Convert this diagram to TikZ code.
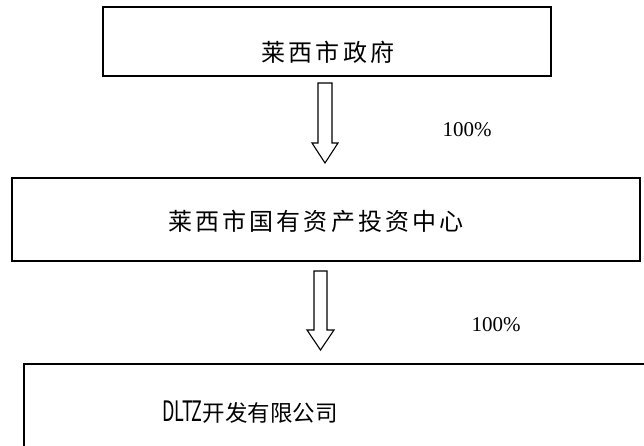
\documentclass[tikz,border=0pt]{standalone}
\usepackage{fontspec}
\setmainfont{Liberation Serif}
\newfontfamily\cjkwide[LetterSpace=13]{Noto Sans CJK SC}
\newfontfamily\cjknarrow{Noto Sans CJK SC}
\begin{document}
\begin{tikzpicture}[x=1pt,y=-1pt,
  box/.style={draw, line width=1.8pt, inner sep=0pt, outer sep=0pt},
  blockarrow/.style={draw, line width=1.1pt, line join=miter},
  cjktext/.style={inner sep=0pt, font=\cjkwide\fontsize{24}{28}\selectfont},
  cjktextb/.style={inner sep=0pt, font=\cjknarrow\fontsize{22.5}{26}\selectfont},
  pct/.style={inner sep=0pt, font=\fontsize{21}{24}\selectfont}]
\useasboundingbox (0,0) rectangle (644,445);
% boxes
\node[box, minimum width=448pt, minimum height=69pt] (gov) at (327,41.5) {};
\node[box, minimum width=628pt, minimum height=83pt] (center) at (326,219.5) {};
\node[box, minimum width=640pt, minimum height=110pt] (company) at (344,419) {};
% texts
\node[cjktext] (govtext) at (328,52) {莱西市政府};
\node[cjktext] (centertext) at (316,221) {莱西市国有资产投资中心};
\node[cjktextb] (companytext) at (250,412) {\scalebox{0.8}[1.25]{DLTZ}开发有限公司};
% block arrows
\draw[blockarrow] (318,83) -- (332,83) -- (332,143) -- (338,143) -- (325,163) -- (312,143) -- (318,143) -- cycle;
\draw[blockarrow] (314,271) -- (327,271) -- (327,330) -- (334,330) -- (320.5,350) -- (307,330) -- (314,330) -- cycle;
% labels
\node[pct] (pctone) at (467,130) {100\%};
\node[pct] (pcttwo) at (496,325) {100\%};
\end{tikzpicture}
\end{document}
